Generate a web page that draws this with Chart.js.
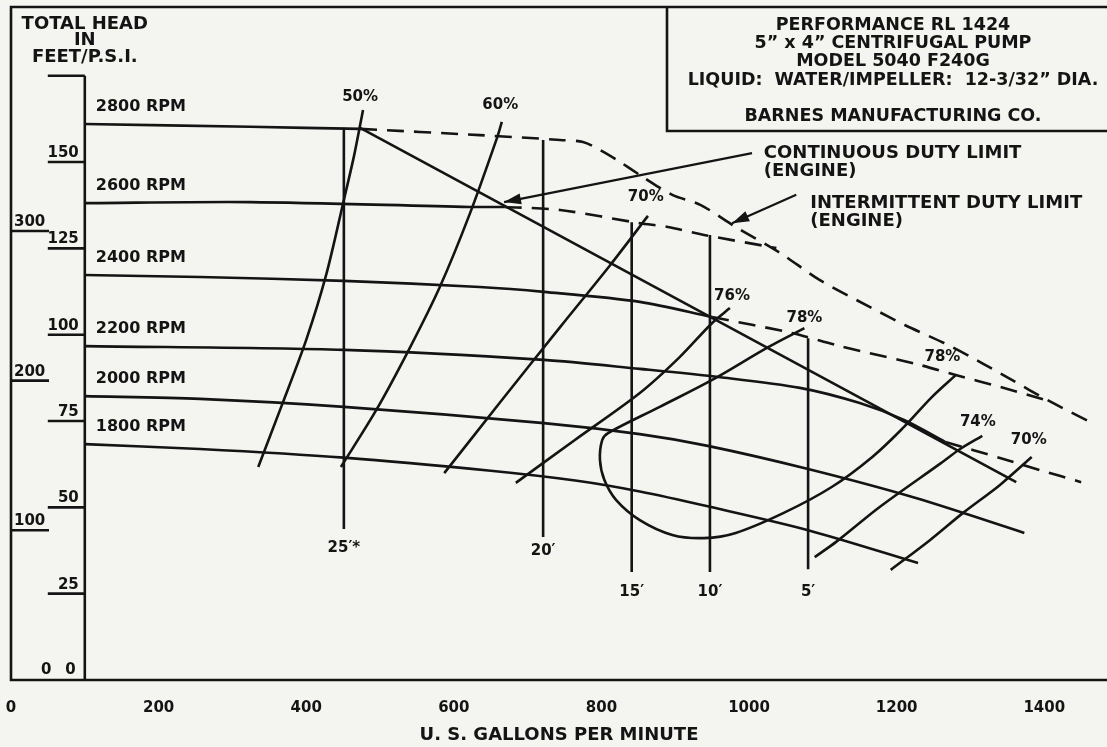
<!DOCTYPE html>
<html>
<head>
<meta charset="utf-8">
<title>Performance RL 1424</title>
<script src="https://cdn.jsdelivr.net/npm/chart.js@4.4.1/dist/chart.umd.min.js"></script>
<style>
  html, body { margin: 0; padding: 0; background: #f4f4f1; }
  #wrap { width: 1107px; height: 747px; }
</style>
</head>
<body>
<div id="wrap"><canvas id="pumpChart" width="1107" height="747"></canvas></div>
<script>
// Axis ranges
const gpmMax = 1485;
const feetMax = 194.9;
const psiMax = 449.6;

// Tick labels
const gpmTicks = [0, 200, 400, 600, 800, 1000, 1200, 1400];
const feetTicks = [0, 25, 50, 75, 100, 125, 150, 175];
const psiTicks = [0, 100, 200, 300];

// Head curves [gpm, feet], solid part (up to continuous duty limit)
const rpmLabels = ['2800 RPM', '2600 RPM', '2400 RPM', '2200 RPM', '2000 RPM', '1800 RPM'];
const rpm2800 = [[100, 161.0], [324, 160.2], [473, 159.6]];
const rpm2600 = [[100, 138.1], [324, 138.4], [622, 137.0], [669, 137.0]];
const rpm2400 = [[100, 117.3], [256, 116.7], [451, 115.6], [635, 113.8], [722, 112.4], [852, 109.5], [950, 105.1]];
const rpm2200 = [[100, 96.7], [451, 95.6], [722, 92.7], [852, 90.1], [961, 87.7], [1069, 84.6], [1150, 80.2], [1210, 75.3], [1266, 68.9]];
const rpm2000 = [[100, 82.2], [256, 81.4], [451, 79.1], [722, 74.4], [852, 71.2], [944, 67.8], [1080, 61.1], [1226, 52.7], [1373, 42.6]];
const rpm1800 = [[100, 68.3], [256, 66.9], [451, 64.4], [650, 60.6], [767, 57.7], [852, 54.6], [944, 50.3], [1080, 43.4], [1229, 33.9]];

// Dashed parts beyond the continuous duty limit
const rpm2600Dash = [[669, 137.0], [744, 136.1], [852, 132.3], [890, 131.2], [939, 128.9], [1037, 125.1]];
const rpm2400Dash = [[950, 105.1], [1058, 100.5], [1123, 96.7], [1232, 91.2], [1280, 88.3], [1340, 84.9], [1401, 81.1]];
const rpm2200Dash = [[1266, 68.9], [1340, 64.3], [1394, 60.8], [1450, 57.3]];
const intermittentLimit = [[473, 159.6], [635, 157.8], [744, 156.4], [775, 155.8], [798, 153.5], [821, 150.6], [856, 145.7],
  [896, 140.5], [934, 137.6], [982, 131.2], [1042, 123.7], [1096, 115.8], [1164, 108.0], [1211, 102.8], [1264, 97.6],
  [1308, 92.7], [1356, 86.9], [1404, 81.1], [1465, 74.4]];
const continuousLimit = [[473, 159.9], [1362, 57.3]];

// Efficiency curves
const eff50 = [[335, 61.7], [367, 79.6], [400, 98.5], [427, 117.3], [451, 139.0], [465, 152.0], [477, 165.1]];
const eff60 = [[447, 61.7], [495, 78.2], [539, 95.6], [581, 113.8], [622, 135.2], [659, 157.3], [665, 161.6]];
const eff70a = [[587, 59.9], [663, 80.5], [744, 102.2], [812, 120.2], [863, 134.4]];
const eff76 = [[684, 57.1], [764, 69.5], [852, 83.1], [906, 93.5], [950, 103.4], [974, 107.7]];
const eff78 = [[1075, 101.9], [1026, 96.4], [950, 86.9], [879, 79.1], [809, 71.5], [801, 69.5], [798, 63.7], [804, 57.9],
  [820, 52.1], [852, 46.3], [896, 42.0], [939, 41.1], [982, 42.6], [1047, 48.4], [1112, 55.9], [1167, 64.6],
  [1210, 73.3], [1248, 82.0], [1280, 88.3]];
const eff74 = [[1089, 35.6], [1118, 40.0], [1177, 50.1], [1260, 62.8], [1286, 66.9], [1316, 70.7]];
const eff70b = [[1192, 31.9], [1245, 40.5], [1290, 48.4], [1340, 56.5], [1383, 64.6]];

const effLabelText = ['50%', '60%', '70%', '76%', '78%', '78%', '74%', '70%'];
const effLabelGpm = [473, 663, 860, 977, 1075, 1262, 1310, 1379];
const effLabelFeet = [168.8, 166.5, 139.9, 111.2, 104.8, 93.5, 74.7, 69.5];

// NPSH lines
const npshText = ['25\u2032*', '20\u2032', '15\u2032', '10\u2032', '5\u2032'];
const npshGpm = [451, 721, 841, 947, 1080];
const npshTop = [159.9, 156.4, 132.6, 128.9, 99.0];
const npshBottom = [43.7, 41.4, 31.3, 31.3, 32.1];
const npshLabelFeet = [38.2, 37.4, 25.5, 25.5, 25.5];

// Duty limit callouts
const contArrow = [[1004, 152.6], [668, 138.4]];
const interArrow = [[1064, 140.5], [977, 132.3]];
const dutyText = ['CONTINUOUS DUTY LIMIT', '(ENGINE)', 'INTERMITTENT DUTY LIMIT', '(ENGINE)'];
const dutyGpm = [1020, 1020, 1083, 1083];
const dutyFeet = [152.6, 147.4, 138.1, 132.9];

const boxLines = ['PERFORMANCE RL 1424', '5\u201D x 4\u201D CENTRIFUGAL PUMP', 'MODEL 5040 F240G',
  'LIQUID:  WATER/IMPELLER:  12-3/32\u201D DIA.', 'BARNES MANUFACTURING CO.'];

const ink = '#141414';
const paper = '#f4f4f1';
const FONT = '"DejaVu Sans", "Liberation Sans", sans-serif';

function pts(arr) {
    return arr.map(p => ({ x: p[0], y: p[1] }));
}

function line(arr, opts) {
    return Object.assign({
        data: pts(arr),
        showLine: true,
        borderColor: ink,
        borderWidth: 2.6,
        pointRadius: 0,
        tension: 0.3,
        fill: false
    }, opts || {});
}

const datasets = [
    line(rpm2800), line(rpm2600), line(rpm2400), line(rpm2200), line(rpm2000), line(rpm1800),
    line(rpm2600Dash, { borderDash: [17, 10] }),
    line(rpm2400Dash, { borderDash: [17, 10] }),
    line(rpm2200Dash, { borderDash: [17, 10] }),
    line(intermittentLimit, { borderDash: [17, 10] }),
    line(continuousLimit, { tension: 0 }),
    line(eff50), line(eff60), line(eff70a), line(eff76), line(eff78, { tension: 0.35 }), line(eff74), line(eff70b),
    line(contArrow, { tension: 0, borderWidth: 2.2 }),
    line(interArrow, { tension: 0, borderWidth: 2.2 })
];
npshGpm.forEach((g, i) => {
    datasets.push(line([[g, npshTop[i]], [g, npshBottom[i]]], { tension: 0 }));
});

function arrowHead(ctx, x0, y0, x1, y1) {
    const ang = Math.atan2(y1 - y0, x1 - x0);
    const len = 17, half = 5.5;
    ctx.beginPath();
    ctx.moveTo(x1, y1);
    ctx.lineTo(x1 - len * Math.cos(ang) + half * Math.sin(ang), y1 - len * Math.sin(ang) - half * Math.cos(ang));
    ctx.lineTo(x1 - len * Math.cos(ang) - half * Math.sin(ang), y1 - len * Math.sin(ang) + half * Math.cos(ang));
    ctx.closePath();
    ctx.fill();
}

// Frame, axes, labels and title block
const sheetPlugin = {
    id: 'sheet',
    beforeDraw(chart) {
        const ctx = chart.ctx;
        ctx.save();
        ctx.fillStyle = paper;
        ctx.fillRect(0, 0, chart.width, chart.height);
        ctx.restore();
    },
    afterDraw(chart) {
        const { ctx, chartArea: a } = chart;
        const x = chart.scales.x, y = chart.scales.y, y2 = chart.scales.y2;
        ctx.save();
        ctx.strokeStyle = ink;
        ctx.fillStyle = ink;
        ctx.lineWidth = 2.6;

        // outer frame
        ctx.beginPath();
        ctx.moveTo(a.right, a.top);
        ctx.lineTo(a.left, a.top);
        ctx.lineTo(a.left, a.bottom);
        ctx.lineTo(a.right, a.bottom);
        ctx.stroke();

        // inner feet axis
        const xi = x.getPixelForValue(100);
        ctx.beginPath();
        ctx.moveTo(xi, y.getPixelForValue(175));
        ctx.lineTo(xi, a.bottom);
        ctx.stroke();

        ctx.font = 'bold 15px ' + FONT;
        ctx.textBaseline = 'alphabetic';

        // feet ticks
        feetTicks.forEach(v => {
            const py = y.getPixelForValue(v);
            if (v > 0) {
                ctx.beginPath();
                ctx.moveTo(xi - 37, py);
                ctx.lineTo(xi, py);
                ctx.stroke();
            }
            if (v === 175) return;
            ctx.textAlign = 'right';
            ctx.fillText(String(v), v === 0 ? xi - 9 : xi - 6, v === 0 ? py - 6 : py - 5);
        });

        // psi ticks
        psiTicks.forEach(v => {
            const py = y2.getPixelForValue(v);
            if (v > 0) {
                ctx.beginPath();
                ctx.moveTo(a.left, py);
                ctx.lineTo(a.left + 38, py);
                ctx.stroke();
            }
            ctx.textAlign = 'left';
            ctx.fillText(String(v), v === 0 ? a.left + 30 : a.left + 3, v === 0 ? py - 6 : py - 5);
        });

        // gpm tick labels
        ctx.textAlign = 'center';
        ctx.textBaseline = 'middle';
        gpmTicks.forEach(v => {
            ctx.fillText(String(v), x.getPixelForValue(v), a.bottom + 28);
        });

        ctx.font = 'bold 18px ' + FONT;
        ctx.fillText('U. S. GALLONS PER MINUTE', (a.left + a.right) / 2, a.bottom + 55);

        // vertical axis title
        ctx.fillText('TOTAL HEAD', xi, 24);
        ctx.fillText('IN', xi, 40);
        ctx.fillText('FEET/P.S.I.', xi, 57);

        // rpm labels above each curve start
        const curves = [rpm2800, rpm2600, rpm2400, rpm2200, rpm2000, rpm1800];
        ctx.font = 'bold 16px ' + FONT;
        ctx.textAlign = 'left';
        curves.forEach((c, i) => {
            ctx.fillText(rpmLabels[i], xi + 11, y.getPixelForValue(c[0][1]) - 17);
        });

        // efficiency and NPSH labels
        ctx.font = 'bold 15px ' + FONT;
        ctx.textAlign = 'center';
        effLabelText.forEach((t, i) => {
            ctx.fillText(t, x.getPixelForValue(effLabelGpm[i]), y.getPixelForValue(effLabelFeet[i]));
        });
        npshText.forEach((t, i) => {
            ctx.fillText(t, x.getPixelForValue(npshGpm[i]), y.getPixelForValue(npshLabelFeet[i]));
        });

        // duty limit callouts
        ctx.font = 'bold 18px ' + FONT;
        ctx.textAlign = 'left';
        dutyText.forEach((t, i) => {
            ctx.fillText(t, x.getPixelForValue(dutyGpm[i]), y.getPixelForValue(dutyFeet[i]));
        });
        [contArrow, interArrow].forEach(ar => {
            arrowHead(ctx,
                x.getPixelForValue(ar[0][0]), y.getPixelForValue(ar[0][1]),
                x.getPixelForValue(ar[1][0]), y.getPixelForValue(ar[1][1]));
        });

        // title block, top right
        const bx = a.right - 440, by = 131;
        ctx.beginPath();
        ctx.moveTo(bx, a.top);
        ctx.lineTo(bx, by);
        ctx.lineTo(a.right, by);
        ctx.stroke();
        ctx.font = 'bold 17.5px ' + FONT;
        ctx.textAlign = 'center';
        const cx = bx + 226;
        [25, 43, 61, 80, 116].forEach((ty, i) => {
            ctx.fillText(boxLines[i], cx, ty);
        });
        ctx.restore();
    }
};

new Chart(document.getElementById('pumpChart'), {
    type: 'scatter',
    data: { datasets: datasets },
    options: {
        responsive: false,
        devicePixelRatio: 1,
        animation: false,
        layout: { padding: { left: 11, right: 0, top: 7, bottom: 67 } },
        plugins: { legend: { display: false }, tooltip: { enabled: false } },
        scales: {
            x: { type: 'linear', min: 0, max: gpmMax, display: false },
            y: { type: 'linear', min: 0, max: feetMax, display: false },
            y2: { type: 'linear', position: 'left', min: 0, max: psiMax, display: false }
        }
    },
    plugins: [sheetPlugin]
});
</script>
</body>
</html>
